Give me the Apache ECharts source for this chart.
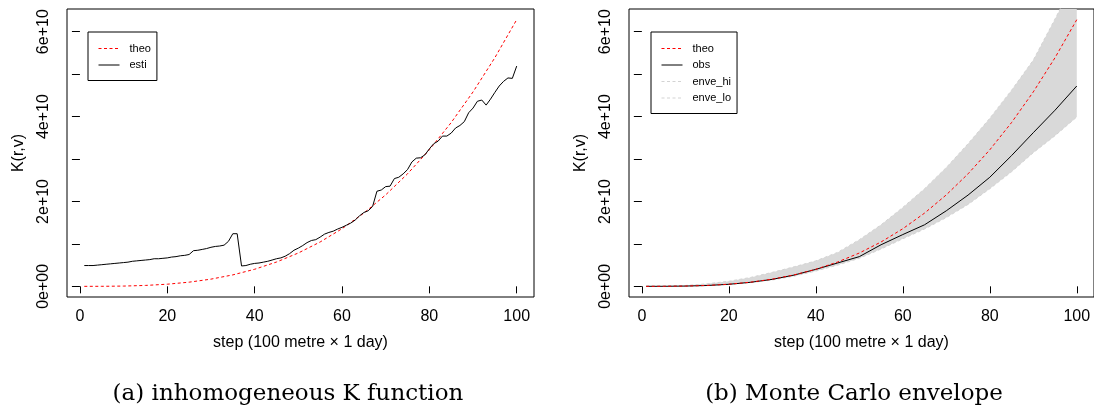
<!DOCTYPE html>
<html><head><meta charset="utf-8">
<script src="https://cdn.jsdelivr.net/npm/echarts@6/dist/echarts.min.js"></script>
<style>html,body{margin:0;padding:0;background:#fff}#c{width:1094px;height:410px}</style>
</head><body><div id="c"></div>
<script>
// ---- data (K values in units of 1e10) ----
const captions = ['(a) inhomogeneous K function', '(b) Monte Carlo envelope'];
const xTitle = 'step (100 metre \u00d7 1 day)';
const yTitle = 'K(r,v)';
const xTicks = [0, 20, 40, 60, 80, 100];
const yTicks = [0, 1, 2, 3, 4, 5, 6];
const yLabelValues = [0, 2, 4, 6];
const yTickLabels = ['0e+00', '2e+10', '4e+10', '6e+10'];

// step positions for the smooth curves
const curveSteps = [1, 5, 10, 15, 20, 25, 30, 35, 40, 45, 50, 55, 60, 65, 70, 75, 80, 85, 90, 95, 100];
const theo = [0.0000, 0.0008, 0.0063, 0.0212, 0.0503, 0.0982, 0.1696, 0.2694, 0.4021, 0.5725, 0.7854,
              1.0453, 1.3572, 1.7255, 2.1551, 2.6507, 3.2170, 3.8587, 4.5804, 5.3870, 6.2832];
const obs  = [0.000, 0.001, 0.006, 0.020, 0.048, 0.095, 0.165, 0.265, 0.400, 0.550, 0.700,
              0.980, 1.220, 1.450, 1.780, 2.150, 2.570, 3.080, 3.620, 4.150, 4.720];
const enveHi = [0.000, 0.003, 0.020, 0.060, 0.120, 0.210, 0.330, 0.460, 0.600, 0.800, 1.100,
                1.450, 1.860, 2.300, 2.800, 3.360, 3.960, 4.620, 5.330, 6.300, 7.300];
const enveLo = [0.000, 0.0005, 0.005, 0.018, 0.044, 0.088, 0.150, 0.240, 0.360, 0.500, 0.660,
                0.880, 1.120, 1.350, 1.620, 1.930, 2.300, 2.700, 3.150, 3.550, 3.990];

// esti at steps 1..100
const esti = [0.49,0.49,0.49,0.50,0.51,0.52,0.53,0.54,0.55,0.56,
              0.57,0.59,0.60,0.61,0.62,0.63,0.65,0.65,0.66,0.67,
              0.69,0.70,0.72,0.73,0.75,0.84,0.85,0.87,0.89,0.92,
              0.94,0.95,0.97,1.06,1.24,1.24,0.48,0.49,0.52,0.54,
              0.55,0.57,0.59,0.62,0.65,0.67,0.71,0.77,0.85,0.90,
              0.96,1.03,1.08,1.10,1.16,1.23,1.27,1.30,1.35,1.39,
              1.44,1.49,1.56,1.66,1.74,1.78,1.88,2.24,2.27,2.35,
              2.36,2.54,2.57,2.65,2.75,2.93,3.02,3.03,3.10,3.24,
              3.36,3.42,3.54,3.54,3.61,3.73,3.79,3.88,4.09,4.20,
              4.36,4.39,4.27,4.41,4.57,4.72,4.83,4.91,4.90,5.19];
const estiSteps = esti.map((_, i) => i + 1);

// ---- chart ----
const FONT = "'Liberation Sans', Arial, Helvetica, sans-serif";
const pair = (xs, ys) => xs.map((x, i) => [x, ys[i]]);
const X_MIN = -2.96, X_MAX = 103.96, Y_MIN = -0.2513, Y_MAX = 6.5345;

function xAxisCfg(gi) {
  return {
    type: 'value', gridIndex: gi, min: X_MIN, max: X_MAX,
    name: xTitle, nameLocation: 'middle', nameGap: 38,
    nameTextStyle: { fontSize: 16, color: '#000', fontFamily: FONT },
    axisLine: { show: false },
    axisTick: { show: true, length: 7, customValues: xTicks, lineStyle: { color: '#000', width: 1 } },
    axisLabel: { customValues: xTicks, fontSize: 16, color: '#000', fontFamily: FONT, margin: 12 },
    splitLine: { show: false }
  };
}
function yAxisCfg(gi) {
  return {
    type: 'value', gridIndex: gi, min: Y_MIN, max: Y_MAX,
    name: yTitle, nameLocation: 'middle', nameGap: 40, nameRotate: 90,
    nameTextStyle: { fontSize: 16, color: '#000', fontFamily: FONT },
    axisLine: { show: false },
    axisTick: { show: true, length: 8, customValues: yTicks, lineStyle: { color: '#000', width: 1 } },
    axisLabel: {
      customValues: yLabelValues, rotate: 90, fontSize: 16, color: '#000', fontFamily: FONT, margin: 15,
      formatter: v => yTickLabels[yLabelValues.indexOf(Math.round(v))] || ''
    },
    splitLine: { show: false }
  };
}
const red = { color: '#ff0000', type: [3, 2.5], width: 1 };
const blk = { color: '#000000', type: 'solid', width: 1 };
const env = { color: '#d3d3d3', type: [3, 2.5], width: 1 };
const lineS = (name, gi, data, ls, z) => ({
  name, type: 'line', xAxisIndex: gi, yAxisIndex: gi, data, symbol: 'none', showSymbol: false,
  lineStyle: ls, itemStyle: { color: ls.color }, silent: true, animation: false, z, clip: true
});

const legendBase = {
  orient: 'vertical', itemWidth: 21, itemHeight: 11, itemGap: 5.5,
  padding: [11, 6, 10, 10], borderColor: '#000', borderWidth: 1, backgroundColor: '#fff',
  selectedMode: false,
  itemStyle: { color: 'rgba(0,0,0,0)', borderColor: 'rgba(0,0,0,0)', borderWidth: 0, opacity: 0 },
  lineStyle: { width: 1, color: 'inherit', type: 'inherit', opacity: 'inherit' },
  textStyle: { fontSize: 11, color: '#000', fontFamily: FONT, padding: [0, 0, 0, 5] }
};

const chart = echarts.init(document.getElementById('c'), null, { renderer: 'canvas' });
chart.setOption({
  animation: false,
  backgroundColor: '#fff',
  title: [
    { text: captions[0], left: 288, top: 383, textAlign: 'center', padding: 0,
      textStyle: { fontFamily: "'DejaVu Serif', serif", fontWeight: 'normal', fontSize: 23, color: '#000' } },
    { text: captions[1], left: 854, top: 383, textAlign: 'center', padding: 0,
      textStyle: { fontFamily: "'DejaVu Serif', serif", fontWeight: 'normal', fontSize: 23, color: '#000' } }
  ],
  legend: [
    Object.assign({}, legendBase, { left: 88, top: 32, data: ['theo', 'esti'] }),
    Object.assign({}, legendBase, { left: 651, top: 32, data: ['theo', 'obs', 'enve_hi', 'enve_lo'] })
  ],
  grid: [
    { left: 67, top: 9, width: 467, height: 288, show: true, borderColor: '#000', borderWidth: 1, backgroundColor: 'transparent' },
    { left: 629, top: 9, width: 467, height: 288, show: true, borderColor: '#000', borderWidth: 1, backgroundColor: 'transparent' }
  ],
  xAxis: [xAxisCfg(0), xAxisCfg(1)],
  yAxis: [yAxisCfg(0), yAxisCfg(1)],
  series: [
    lineS('theo', 0, pair(curveSteps, theo), red, 3),
    lineS('esti', 0, pair(estiSteps, esti), blk, 4),
    {
      name: 'band', type: 'custom', xAxisIndex: 1, yAxisIndex: 1, clip: true, silent: true, z: 1,
      animation: false, data: [[curveSteps[0], enveLo[0]]],
      renderItem: (params, api) => {
        const top = curveSteps.map((s, i) => api.coord([s, enveHi[i]]));
        const bot = curveSteps.map((s, i) => api.coord([s, enveLo[i]])).reverse();
        return { type: 'polygon', shape: { points: top.concat(bot) }, style: { fill: '#d9d9d9', stroke: null } };
      }
    },
    lineS('enve_hi', 1, pair(curveSteps, enveHi), env, 2),
    lineS('enve_lo', 1, pair(curveSteps, enveLo), env, 2),
    lineS('obs', 1, pair(curveSteps, obs), blk, 3),
    lineS('theo', 1, pair(curveSteps, theo), red, 4)
  ]
});
</script></body></html>
